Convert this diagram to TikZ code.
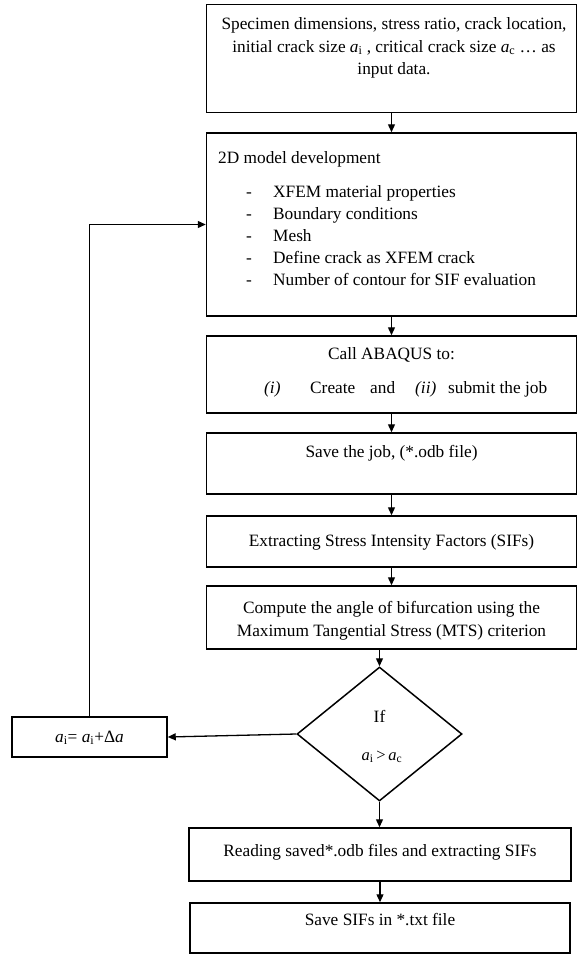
\documentclass[tikz,border=0pt]{standalone}
\usepackage{fontspec}
\setmainfont{Liberation Serif}
\usetikzlibrary{shapes.geometric,arrows.meta}
\newcommand{\ai}{\textit{a}\textsubscript{i}}
\newcommand{\ac}{\textit{a}\textsubscript{c}}
\begin{document}
\begin{tikzpicture}[x=1pt,y=-1pt,
  box/.style={draw, line width=1.5pt, inner sep=0pt},
  txt/.style={font=\fontsize{17.3}{22.5}\selectfont, inner sep=0pt, anchor=base},
  txtl/.style={txt, anchor=base west},
  arr/.style={line width=1.3pt, -{Triangle[length=8pt,width=7pt]}},
]
\useasboundingbox (0,0) rectangle (578,956);
% boxes
\node[box, minimum width=370pt, minimum height=108pt] (b1) at (391.5,58.5) {};
\node[box, minimum width=370pt, minimum height=183pt] (b2) at (391.5,224.5) {};
\node[box, minimum width=370pt, minimum height=77pt] (b3) at (391.5,374.5) {};
\node[box, minimum width=370pt, minimum height=61pt] (b4) at (391.5,463.5) {};
\node[box, minimum width=370pt, minimum height=51pt] (b5) at (391.5,541.5) {};
\node[box, minimum width=370pt, minimum height=63pt] (b6) at (391.5,617.5) {};
\node[box, shape=diamond, aspect=1.23, minimum width=165pt, minimum height=134pt] (d) at (379.5,734) {};
\node[box, minimum width=155pt, minimum height=40pt] (lb) at (89.5,737) {};
\node[box, minimum width=382pt, minimum height=53pt] (b7) at (380,854.5) {};
\node[box, minimum width=380pt, minimum height=50pt] (b8) at (380,928) {};
% texts
\node[txt] (t1a) at (394,29) {Specimen dimensions, stress ratio, crack location,};
\node[txt] (t1b) at (394,52) {initial crack size \ai\ , critical crack size \ac\ … as};
\node[txt] (t1c) at (394,74) {input data.};
\node[txtl] (t2h) at (218,163) {2D model development};
\node[txtl] (d1) at (246,197) {-};
\node[txtl] (i1) at (273,197) {XFEM material properties};
\node[txtl] (d2) at (246,219) {-};
\node[txtl] (i2) at (273,219) {Boundary conditions};
\node[txtl] (d3) at (246,241) {-};
\node[txtl] (i3) at (273,241) {Mesh};
\node[txtl] (d4) at (246,263) {-};
\node[txtl] (i4) at (273,263) {Define crack as XFEM crack};
\node[txtl] (d5) at (246,285) {-};
\node[txtl] (i5) at (273,285) {Number of contour for SIF evaluation};
\node[txt] (t3a) at (391.5,359) {Call ABAQUS to:};
\node[txtl] (t3b) at (264,393) {\textit{(i)}};
\node[txtl] (t3c) at (310,393) {Create};
\node[txtl] (t3d) at (370,393) {and};
\node[txtl] (t3e) at (415,393) {\textit{(ii)}};
\node[txtl] (t3f) at (448,393) {submit the job};
\node[txt] (t4) at (391.5,457) {Save the job, (*.odb file)};
\node[txt] (t5) at (391.5,546) {Extracting Stress Intensity Factors (SIFs)};
\node[txt] (t6a) at (391.5,613) {Compute the angle of bifurcation using the};
\node[txt] (t6b) at (391.5,636) {Maximum Tangential Stress (MTS) criterion};
\node[txt] (tif) at (379.5,722) {If};
\node[txt, font=\fontsize{16.5}{18}\selectfont] (tcond) at (382,760) {\ai\,>\,\ac};
\node[txt] (tlb) at (89.5,742) {\ai= \ai+Δ\textit{a}};
\node[txt] (t7) at (380,856) {Reading saved*.odb files and extracting SIFs};
\node[txt] (t8) at (380,925) {Save SIFs in *.txt file};
% connectors
\draw[arr] (b1.south) -- (b2.north);
\draw[arr] (b2.south) -- (b3.north);
\draw[arr] (b3.south) -- (b4.north);
\draw[arr] (b4.south) -- (b5.north);
\draw[arr] (b5.south) -- (b6.north);
\draw[arr] (d.north |- b6.south) -- (d.north);
\draw[arr] (d.south) -- (d.south |- b7.north);
\draw[arr] (b7.south) -- (b8.north);
\draw[arr] (d.west) -- (lb.east);
\draw[arr] (lb.north) |- (b2.west);
\end{tikzpicture}
\end{document}
